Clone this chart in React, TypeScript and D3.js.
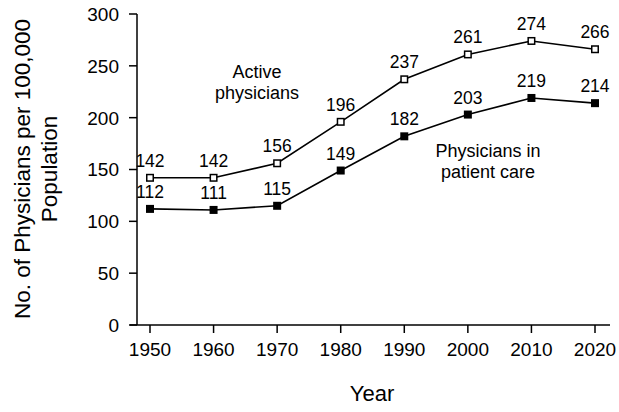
import React from 'react';
import * as d3 from 'd3';

const years = [1950, 1960, 1970, 1980, 1990, 2000, 2010, 2020];
const active = [142, 142, 156, 196, 237, 261, 274, 266];
const patientCare = [112, 111, 115, 149, 182, 203, 219, 214];
const yTicks = [0, 50, 100, 150, 200, 250, 300];

const font = 'Liberation Sans, Arial, Helvetica, sans-serif';

export default function App() {
  const width = 619;
  const height = 412;
  const x = d3.scaleLinear().domain([1950, 2020]).range([150, 595]);
  const y = d3.scaleLinear().domain([0, 300]).range([325, 14]);
  const line = d3
    .line<number>()
    .x((_, i) => x(years[i]))
    .y((v) => y(v));
  const sq = 8;

  return (
    <svg width={width} height={height} style={{ position: 'absolute', left: 0, top: 0 }} fontFamily={font}>
      {/* axes */}
      <line x1={137} x2={137} y1={y(300)} y2={325} stroke="#000" strokeWidth={1.5} />
      <line x1={130} x2={610} y1={325} y2={325} stroke="#000" strokeWidth={1.5} />
      {yTicks.map((t) => (
        <g key={t}>
          <line x1={129} x2={137} y1={y(t)} y2={y(t)} stroke="#000" strokeWidth={1.5} />
          <text x={119} y={y(t)} dy="0.36em" textAnchor="end" fontSize={19}>
            {t}
          </text>
        </g>
      ))}
      {years.map((yr) => (
        <g key={yr}>
          <line x1={x(yr)} x2={x(yr)} y1={325} y2={333} stroke="#000" strokeWidth={1.5} />
          <text x={x(yr)} y={356} textAnchor="middle" fontSize={19}>
            {yr}
          </text>
        </g>
      ))}
      <text x={372} y={401} textAnchor="middle" fontSize={22}>
        Year
      </text>
      <g transform="translate(0,169) rotate(-90)" fontSize={22.5} textAnchor="middle">
        <text x={0} y={30}>No. of Physicians per 100,000</text>
        <text x={0} y={57}>Population</text>
      </g>

      {/* series */}
      <path d={line(active) || ''} fill="none" stroke="#000" strokeWidth={1.6} />
      <path d={line(patientCare) || ''} fill="none" stroke="#000" strokeWidth={1.6} />
      {active.map((v, i) => (
        <g key={'a' + i}>
          <rect x={x(years[i]) - (sq - 1.5) / 2} y={y(v) - (sq - 1.5) / 2} width={sq - 1.5} height={sq - 1.5} fill="#fff" stroke="#000" strokeWidth={1.5} />
          <text x={x(years[i])} y={y(v) - 11} textAnchor="middle" fontSize={17.5}>
            {v}
          </text>
        </g>
      ))}
      {patientCare.map((v, i) => (
        <g key={'p' + i}>
          <rect x={x(years[i]) - sq / 2} y={y(v) - sq / 2} width={sq} height={sq} fill="#000" />
          <text x={x(years[i])} y={y(v) - 11} textAnchor="middle" fontSize={17.5}>
            {v}
          </text>
        </g>
      ))}

      <text x={257} y={78} textAnchor="middle" fontSize={18}>Active</text>
      <text x={257} y={99} textAnchor="middle" fontSize={18}>physicians</text>
      <text x={488} y={157} textAnchor="middle" fontSize={18}>Physicians in</text>
      <text x={488} y={178} textAnchor="middle" fontSize={18}>patient care</text>
    </svg>
  );
}
